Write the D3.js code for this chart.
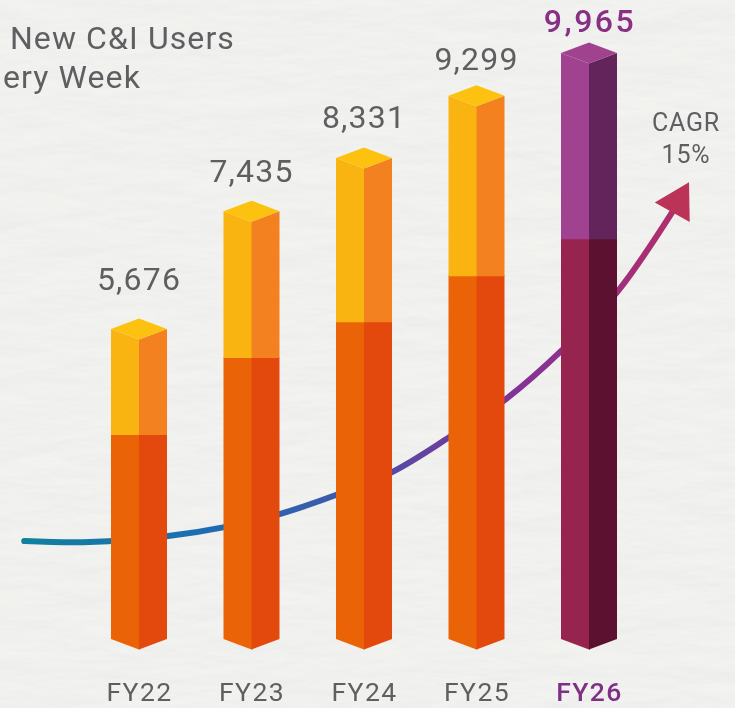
<!DOCTYPE html>
<html>
<head>
<meta charset="utf-8">
<script src="https://cdn.jsdelivr.net/npm/d3@7"></script>
<style>
    html, body { margin: 0; padding: 0; background: #efefed; overflow: hidden; }
    svg { display: block; filter: blur(0.5px); }
    text { font-family: Roboto, sans-serif; fill: #5e5f61; }
    .axis path { display: none; }
</style>
</head>
<body>
<div class="chart"></div>
<script>

//////////
// DATA //
//////////

var years = ['FY22', 'FY23', 'FY24', 'FY25', 'FY26'];
var totals = [5676, 7435, 8331, 9299, 9965];

// bar lengths, FY23 is drawn a bit taller than its label says
var drawnTotals = [5676, 7506, 8331, 9299, 9965];
// where the darker lower part of each bar stops
var lowerParts = [4025, 5222, 5781, 6496, 7071];

// CAGR curve, position in bars (0 = FY22) and height on the bar scale
var cagrAt = [-1.02, -0.44, 0.26, 0.76, 1.25, 1.75, 2.25, 2.76, 3.25, 3.76, 4.25, 4.74];
var cagrValues = [2378, 2362, 2456, 2595, 2798, 3093, 3450, 3994, 4569, 5346, 6247, 7491];
var cagrTip = [4.889, 7957];

var cagrLabel = ['CAGR', '15%'];
var titleLines = ['New C&I Users', 'ery Week'];

/////////////////////
// INITIAL SETTINGS //
/////////////////////

var w = 735,
    h = 708;

var halfBar = 28,
    roofDrop = 10.5;

// gap between roof and value label, not the same on every bar in the source
var labelLift = [28, 19, 20, 15, 11];

var orange = { roof: '#fdc20f', upL: '#fab412', upR: '#f4811f', lowL: '#ea6407', lowR: '#e3490d' };
var purple = { roof: '#a1428f', upL: '#a04290', upR: '#62245a', lowL: '#97234f', lowR: '#5d1130' };

//////////////////
// CREATING SVG //
//////////////////

var svg = d3.select('.chart')
    .append('svg')
    .attr('width', w)
    .attr('height', h);

var defs = svg.append('defs');

// paper background
var paper = defs.append('filter')
    .attr('id', 'paper')
    .attr('x', 0).attr('y', 0).attr('width', '100%').attr('height', '100%');

paper.append('feTurbulence')
    .attr('type', 'fractalNoise')
    .attr('baseFrequency', '0.012 0.04')
    .attr('numOctaves', 4)
    .attr('seed', 7);

paper.append('feDiffuseLighting')
    .attr('surfaceScale', 0.9)
    .attr('lighting-color', '#f4f4f2')
    .append('feDistantLight')
    .attr('azimuth', 90)
    .attr('elevation', 75);

svg.append('rect')
    .attr('width', w)
    .attr('height', h)
    .attr('filter', 'url(#paper)');

////////////
// SCALES //
////////////

var xScale = d3.scalePoint()
    .domain(years)
    .range([139, 589]);

var xAt = d3.scaleLinear()
    .domain([0, years.length - 1])
    .range(xScale.range());

var yScale = d3.scaleLinear()
    .domain([855, 9965])
    .range([639, 53]);

////////////////
// CAGR CURVE //
////////////////

var curvePoints = cagrAt.map(function(d, i) {
    return [xAt(d), yScale(cagrValues[i])];
});

var gradient = defs.append('linearGradient')
    .attr('id', 'cagrGradient')
    .attr('gradientUnits', 'userSpaceOnUse')
    .attr('x1', 24).attr('y1', 0)
    .attr('x2', 680).attr('y2', 0);

[
    [0, '#11809f'],
    [0.28, '#1d6cb3'],
    [0.48, '#3f59ab'],
    [0.65, '#6f3c9e'],
    [0.82, '#8e2f90'],
    [1, '#b22f68']
].forEach(function(s) {
    gradient.append('stop').attr('offset', s[0]).attr('stop-color', s[1]);
});

var line = d3.line().curve(d3.curveCatmullRom.alpha(0.5));

svg.append('path')
    .attr('d', line(curvePoints))
    .attr('fill', 'none')
    .attr('stroke', 'url(#cagrGradient)')
    .attr('stroke-width', 6)
    .attr('stroke-linecap', 'round');

// arrow head sits on the curve end and points at the tip
var end = curvePoints[curvePoints.length - 1],
    tip = [xAt(cagrTip[0]), yScale(cagrTip[1])],
    len = Math.hypot(tip[0] - end[0], tip[1] - end[1]),
    ux = (tip[0] - end[0]) / len,
    uy = (tip[1] - end[1]) / len;

var headHalf = 20;

svg.append('polygon')
    .attr('points', [
        tip,
        [end[0] + uy * headHalf, end[1] - ux * headHalf],
        [end[0] - uy * headHalf, end[1] + ux * headHalf]
    ].join(' '))
    .attr('fill', '#bc3358');

//////////
// BARS //
//////////

function poly(points) {
    return points.join(' ');
}

var bars = svg.selectAll('.bar')
    .data(years)
    .enter()
    .append('g')
    .attr('class', 'bar');

bars.each(function(year, i) {
    var g = d3.select(this),
        c = xScale(year),
        l = c - halfBar,
        r = c + halfBar,
        top = yScale(drawnTotals[i]),
        split = yScale(lowerParts[i]),
        base = yScale.range()[0],
        col = year === 'FY26' ? purple : orange;

    // lower faces, left one runs 1px under the right one so no seam shows
    g.append('polygon').attr('fill', col.lowL)
        .attr('points', poly([[l, split - 1], [c + 1, split - 1], [c + 1, base + roofDrop], [c, base + roofDrop], [l, base]]));
    g.append('polygon').attr('fill', col.lowR)
        .attr('points', poly([[c, split - 1], [r, split - 1], [r, base], [c, base + roofDrop]]));

    // upper faces
    g.append('polygon').attr('fill', col.upL)
        .attr('points', poly([[l, top], [c, top + roofDrop], [c + 1, top + roofDrop], [c + 1, split], [l, split]]));
    g.append('polygon').attr('fill', col.upR)
        .attr('points', poly([[c, top + roofDrop], [r, top], [r, split], [c, split]]));

    // roof
    g.append('polygon').attr('fill', col.roof)
        .attr('points', poly([[l, top], [c, top - roofDrop], [r, top], [c, top + roofDrop]]));

    // value label
    svg.append('text')
        .attr('x', c + (year === 'FY26' ? 1 : 0))
        .attr('y', top - roofDrop - labelLift[i])
        .attr('text-anchor', 'middle')
        .style('font-size', '32px')
        .style('letter-spacing', year === 'FY26' ? '2.5px' : '1.2px')
        .style('font-weight', year === 'FY26' ? 500 : 400)
        .style('fill', year === 'FY26' ? '#8a2f86' : null)
        .text(d3.format(',')(totals[i]));
});

//////////
// AXIS //
//////////

var xAxis = d3.axisBottom()
    .scale(xScale)
    .tickSize(0)
    .tickPadding(0);

var axis = svg.append('g')
    .attr('class', 'axis')
    .attr('transform', 'translate(0,680)')
    .call(xAxis);

axis.selectAll('text')
    .attr('y', 0)
    .attr('dy', '0.8em')
    .style('font-size', '26.5px')
    .style('letter-spacing', '1.4px')
    .style('font-family', 'Roboto, sans-serif')
    .style('fill', function(d) { return d === 'FY26' ? '#7f2f86' : null; })
    .style('font-weight', function(d) { return d === 'FY26' ? 500 : 400; });

///////////
// TEXTS //
///////////

svg.selectAll('.cagr')
    .data(cagrLabel)
    .enter()
    .append('text')
    .attr('class', 'cagr')
    .attr('x', 686)
    .attr('y', function(d, i) { return 131 + i * 32; })
    .attr('text-anchor', 'middle')
    .style('font-size', '25px')
    .style('letter-spacing', '0.8px')
    .text(function(d) { return d; });

// title is cut by the left edge in the source
svg.append('text')
    .attr('x', 235)
    .attr('y', 49)
    .attr('text-anchor', 'end')
    .style('font-size', '32px')
    .style('letter-spacing', '1.1px')
    .text(titleLines[0]);

svg.append('text')
    .attr('x', 141)
    .attr('y', 88)
    .attr('text-anchor', 'end')
    .style('font-size', '32px')
    .style('letter-spacing', '1.1px')
    .text(titleLines[1]);

</script>
</body>
</html>
